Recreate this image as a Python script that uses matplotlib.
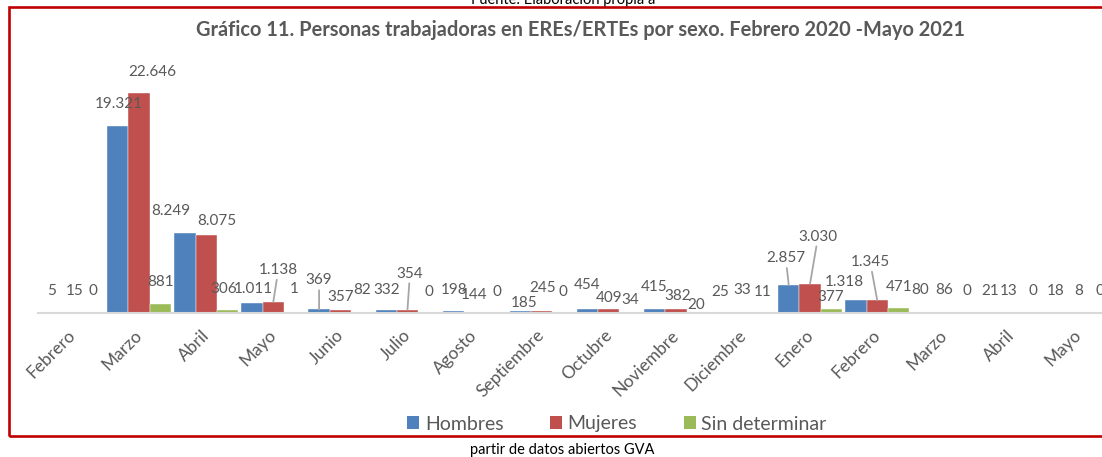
import matplotlib
matplotlib.use("Agg")
import matplotlib.pyplot as plt
from matplotlib.patches import Rectangle, Patch
from matplotlib.transforms import ScaledTranslation

plt.rcParams['font.family'] = ['Lato', 'DejaVu Sans']

# ---- data ----
meses = ["Febrero", "Marzo", "Abril", "Mayo", "Junio", "Julio", "Agosto",
         "Septiembre", "Octubre", "Noviembre", "Diciembre", "Enero",
         "Febrero", "Marzo", "Abril", "Mayo"]
hombres = [5, 19321, 8249, 1011, 369, 332, 198, 185, 454, 415, 25, 2857,
           1318, 80, 21, 18]
mujeres = [15, 22646, 8075, 1138, 357, 354, 144, 245, 409, 382, 33, 3030,
           1345, 86, 13, 8]
sin_determinar = [0, 881, 306, 1, 82, 0, 0, 0, 34, 20, 11, 377, 471, 0, 0, 0]
series_names = ["Hombres", "Mujeres", "Sin determinar"]
titulo = "Gráfico 11. Personas trabajadoras en EREs/ERTEs por sexo. Febrero 2020 -Mayo 2021"

# ---- styles / label placement (pixels) ----
colors = ["#4F81BD", "#C0504D", "#9BBB59"]
gray = "#595959"
off_h = [(1, 22), (0.5, 22), (-14, 22), (1, 14), (0, 29), (0, 20), (1, 21), (4, 8),
         (0, 24), (0, 22), (-1, 21), (-3, 27), (-12, 18), (-3, 22), (0, 22), (-1, 22)]
off_m = [(3, 22), (13, 21), (11, 14), (5, 32), (0, 12.5), (2.5, 36), (0, 16.6), (1, 22.6),
         (0, 11), (1.5, 13), (-1, 23), (8, 47), (-7, 38), (0, 22), (-3, 22), (0, 22)]
off_s = [(0, 22), (0.5, 22.5), (-4, 21), (0, 24), (0, 22), (0, 21), (1, 21), (0, 21),
         (0, 13), (-1, 8), (-2, 21), (-1, 12), (0.5, 21), (1, 22), (0, 22), (0, 22)]
leaders = {(0, 4), (0, 11), (1, 3), (1, 5), (1, 11), (1, 12)}

W, H = 1102, 457
fig = plt.figure(figsize=(W / 100, H / 100), dpi=100)
fig.patch.set_facecolor("white")

x0_px, x1_px = 38.45, 1112.0
base_px, top_px = 313.0, 70.5
ax = fig.add_axes([x0_px / W, 1 - base_px / H, (x1_px - x0_px) / W, (base_px - top_px) / H])
ax.set_xlim(-0.5, len(meses) - 0.5)
ax.set_ylim(0, 25000)
ax.patch.set_alpha(0)

bw = 0.3174
data = [hombres, mujeres, sin_determinar]
offs = [off_h, off_m, off_s]
for s, (vals, col, offl) in enumerate(zip(data, colors, offs)):
    xs = [i + (s - 1) * bw for i in range(len(vals))]
    ax.bar(xs, vals, width=bw, color=col, edgecolor="white", linewidth=0.3,
           label=series_names[s], zorder=2)
    for i, (x, v) in enumerate(zip(xs, vals)):
        txt = f"{v:,}".replace(",", ".")
        dx, dy = offl[i]
        kw = {}
        if (s, i) in leaders:
            kw["arrowprops"] = dict(arrowstyle="-", color="#A6A6A6", lw=1.3,
                                    shrinkA=0, shrinkB=0)
        ax.annotate(txt, xy=(x, v), xytext=(dx, dy), textcoords="offset pixels",
                    ha="center", va="center", fontsize=11, color=gray,
                    annotation_clip=False, zorder=3, **kw)

for sp in ["top", "right", "left"]:
    ax.spines[sp].set_visible(False)
ax.spines["bottom"].set_color("#D9D9D9")
ax.spines["bottom"].set_linewidth(1.5)
ax.set_yticks([])
ax.set_xticks(range(len(meses)))
ax.set_xticklabels(meses, rotation=45, ha="right", va="top", fontsize=12.5, color=gray)
ax.tick_params(axis="x", length=0, pad=14 * 0.72)
shift = ScaledTranslation(6 / 100, 0, fig.dpi_scale_trans)
for lab in ax.get_xticklabels():
    lab.set_transform(lab.get_transform() + shift)

# title
fig.text(581 / W, 1 - 30 / H, titulo, ha="center", va="center", fontsize=14.4,
         fontweight="bold", color=gray)

# legend
handles = [Patch(facecolor=c, edgecolor="none") for c in colors]
fig.legend(handles, series_names, loc="center", bbox_to_anchor=(617 / W, 1 - 424 / H),
           ncol=3, frameon=False, fontsize=14, handlelength=0.6, handleheight=0.6,
           handletextpad=0.3, columnspacing=2.4, labelcolor=gray, borderpad=0)

# red frame
fig.add_artist(Rectangle((9.3 / W, 1 - 435.8 / H), (1120 - 9.3) / W, (435.8 - 7.2) / H,
                         transform=fig.transFigure, fill=False, edgecolor="#C00000",
                         linewidth=1.9, zorder=5))

# surrounding source text
fig.text(563 / W, 1 - 4 / H, "Fuente: Elaboración propia a", ha="center", va="baseline",
         fontsize=10.5, color="black")
fig.text(562 / W, 1 - 450 / H, "partir de datos abiertos GVA", ha="center", va="center",
         fontsize=10.5, color="black")

fig.savefig("out.png", dpi=100)
